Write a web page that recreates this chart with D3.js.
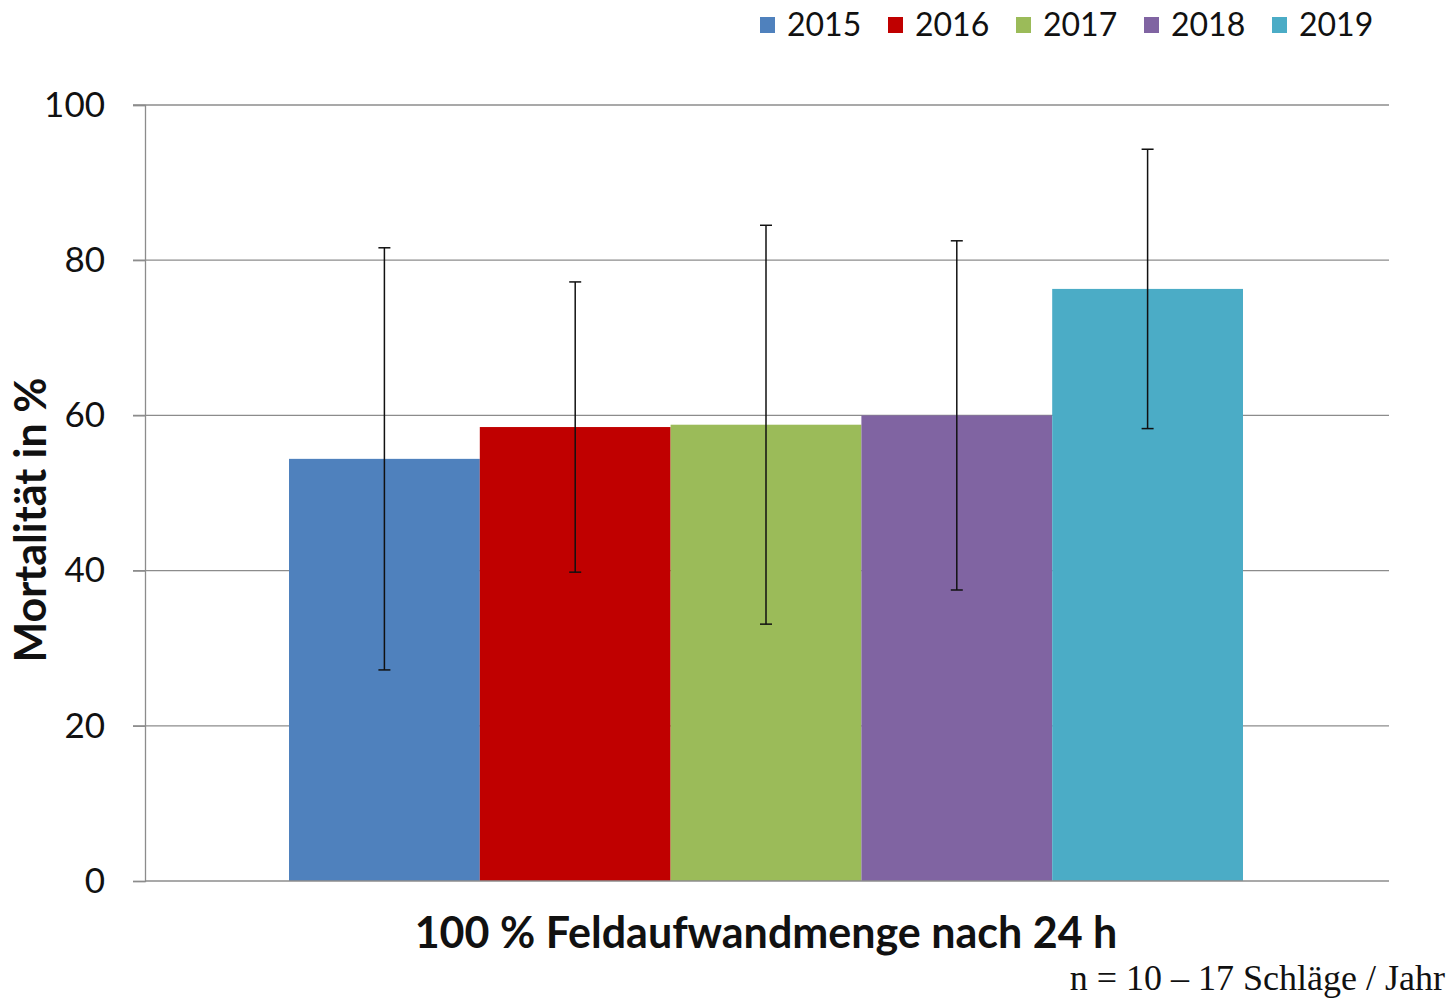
<!DOCTYPE html>
<html>
<head>
<meta charset="utf-8">
<script src="https://cdn.jsdelivr.net/npm/d3@7"></script>
<style>
    body { margin: 0; background: #fff; }
    svg { display: block; }
</style>
</head>
<body>
<div class="chart-area"></div>
<script>
const years = ["2015", "2016", "2017", "2018", "2019"];
const means = [54.4, 58.5, 58.8, 60.0, 76.3];
const sds = [27.2, 18.7, 25.7, 22.5, 18.0];
const colors = ["#4f81bd", "#c00000", "#9bbb59", "#8064a2", "#4bacc6"];
const yTicks = [0, 20, 40, 60, 80, 100];
const categoryLabel = "100 % Feldaufwandmenge nach 24 h";
const yLabel = "Mortalität in %";
const note = "n = 10 – 17 Schläge / Jahr";

const width = 1449;
const height = 998;

const svg = d3.select(".chart-area")
    .append("svg")
    .attr("width", width)
    .attr("height", height);

const y = d3.scaleLinear()
    .domain([0, 100])
    .range([881, 105]);

// the single category spans the plot, bars sit side by side in the middle
const x = d3.scaleBand()
    .domain(years)
    .range([289, 1243])
    .padding(0);

const color = d3.scaleOrdinal(years, colors);

// gridlines
svg.append("g")
    .selectAll("line")
    .data(yTicks.filter(d => d > 0))
    .join("line")
    .attr("x1", 133)
    .attr("x2", 1389)
    .attr("y1", d => y(d))
    .attr("y2", d => y(d))
    .attr("stroke", "#8c8c8c")
    .attr("stroke-width", 1.3);

// y axis
const yAxis = svg.append("g")
    .attr("transform", "translate(145,0)")
    .call(d3.axisLeft(y).tickValues(yTicks).tickSize(12).tickPadding(28));
yAxis.select(".domain").attr("stroke", "#8c8c8c").attr("stroke-width", 1.3);
yAxis.selectAll(".tick line").attr("stroke", "#8c8c8c").attr("stroke-width", 1.3);
yAxis.selectAll(".tick text")
    .attr("font-family", "Lato, 'Open Sans', sans-serif")
    .attr("font-size", 35)
    .attr("fill", "#111");

// bars
svg.append("g")
    .selectAll("rect")
    .data(years)
    .join("rect")
    .attr("x", d => x(d))
    .attr("width", x.bandwidth())
    .attr("y", (d, i) => y(means[i]))
    .attr("height", (d, i) => y(0) - y(means[i]))
    .attr("fill", d => color(d));

// baseline
svg.append("line")
    .attr("x1", 145)
    .attr("x2", 1389)
    .attr("y1", y(0))
    .attr("y2", y(0))
    .attr("stroke", "#8c8c8c")
    .attr("stroke-width", 1.5);

// error bars
const err = svg.append("g")
    .attr("stroke", "#111")
    .attr("stroke-width", 1.5);

years.forEach((yr, i) => {
    const cx = x(yr) + x.bandwidth() / 2;
    const hi = y(means[i] + sds[i]);
    const lo = y(means[i] - sds[i]);
    err.append("line").attr("x1", cx).attr("x2", cx).attr("y1", hi).attr("y2", lo);
    err.append("line").attr("x1", cx - 6).attr("x2", cx + 6).attr("y1", hi).attr("y2", hi);
    err.append("line").attr("x1", cx - 6).attr("x2", cx + 6).attr("y1", lo).attr("y2", lo);
});

// legend
const legend = svg.append("g")
    .selectAll("g")
    .data(years)
    .join("g")
    .attr("transform", (d, i) => `translate(${760 + i * 128}, 25)`);

legend.append("rect")
    .attr("x", 0)
    .attr("y", -8)
    .attr("width", 15)
    .attr("height", 16)
    .attr("fill", d => color(d));

legend.append("text")
    .attr("x", 27)
    .attr("y", 0)
    .attr("dy", "0.35em")
    .attr("font-family", "Lato, 'Open Sans', sans-serif")
    .attr("font-size", 32)
    .attr("fill", "#111")
    .text(d => d);

// axis titles
svg.append("text")
    .attr("transform", "translate(46,520) rotate(-90)")
    .attr("text-anchor", "middle")
    .attr("font-family", "Lato, 'Open Sans', sans-serif")
    .attr("font-weight", "bold")
    .attr("font-size", 43)
    .attr("fill", "#111")
    .text(yLabel);

svg.append("text")
    .attr("x", 766)
    .attr("y", 948)
    .attr("text-anchor", "middle")
    .attr("font-family", "Lato, 'Open Sans', sans-serif")
    .attr("font-weight", "bold")
    .attr("font-size", 43)
    .attr("fill", "#111")
    .text(categoryLabel);

svg.append("text")
    .attr("x", 1445)
    .attr("y", 990)
    .attr("text-anchor", "end")
    .attr("font-family", "'Liberation Serif', 'Times New Roman', serif")
    .attr("font-size", 36)
    .attr("fill", "#111")
    .text(note);
</script>
</body>
</html>
